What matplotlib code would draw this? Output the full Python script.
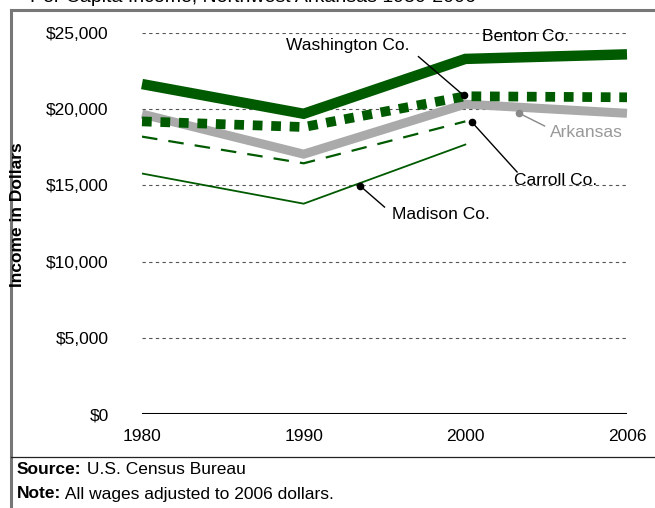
import matplotlib.pyplot as plt
from matplotlib.lines import Line2D

plt.rcParams['font.family'] = ['Liberation Sans', 'DejaVu Sans']

years = ["1980", "1990", "2000", "2006"]
benton = [21650, 19700, 23300, 23600]
washington = [19200, 18830, 20850, 20780]
arkansas = [19680, 17050, 20330, 19730]
carroll = [18200, 16450, 19200]
madison = [15780, 13800, 17680]
y_ticks = [0, 5000, 10000, 15000, 20000, 25000]
y_labels = ["$0", "$5,000", "$10,000", "$15,000", "$20,000", "$25,000"]

green = "#005a00"
grey = "#aaaaaa"
FS = 12.5

fig = plt.figure(figsize=(6.55, 5.08), dpi=100)
ax = fig.add_axes([142 / 655, 94 / 508, 485 / 655, 381 / 508])

x = list(range(len(years)))

for t in y_ticks[1:]:
    ax.axhline(t, color="#555555", lw=0.8, ls=(0, (3, 3)), zorder=1)
ax.axhline(0, color="black", lw=2.2, zorder=2)

ax.plot(x, arkansas, color=grey, lw=6.5, solid_capstyle="butt",
        solid_joinstyle="miter", zorder=3, clip_on=False)
ax.plot(x, washington, color=green, lw=7, ls=(0, (1.0, 0.9)),
        dash_capstyle="butt", zorder=4, clip_on=False)
ax.plot(x, benton, color=green, lw=7.5, solid_capstyle="butt",
        solid_joinstyle="miter", zorder=5, clip_on=False)
ax.plot(x[:3], carroll, color=green, lw=1.6, ls=(0, (7, 5)), zorder=4)
ax.plot(x[:3], madison, color=green, lw=1.3, zorder=4)

ax.set_xlim(0, 3)
ax.set_ylim(0, 25000)
ax.set_yticks(y_ticks)
ax.set_yticklabels(y_labels)
ax.set_xticks(x)
ax.set_xticklabels(years)
ax.tick_params(length=0, labelsize=FS)
ax.tick_params(axis="y", pad=24)
ax.tick_params(axis="x", pad=11)
for s in ax.spines.values():
    s.set_visible(False)
ax.set_facecolor("none")


def callout(text, label_xy, start, dot, color="black", text_color="black"):
    ax.text(label_xy[0], label_xy[1], text, fontsize=FS, color=text_color,
            ha="center", va="center", zorder=8)
    ax.plot([start[0], dot[0]], [start[1], dot[1]], color=color, lw=1, zorder=6)
    ax.plot(dot[0], dot[1], "o", color=color, ms=4.5, zorder=7)


ax.text(2.37, 24740, "Benton Co.", fontsize=FS, ha="center", va="center")
callout("Washington Co.", (1.27, 24210), (1.71, 23450), (1.99, 20900))
callout("Arkansas", (2.75, 18440), (2.49, 18900), (2.33, 19750),
        color="#888888", text_color="#999999")
callout("Carroll Co.", (2.56, 15350), (2.32, 15880), (2.04, 19160))
callout("Madison Co.", (1.85, 13060), (1.50, 13580), (1.35, 14960))

fig.text(18 / 655, 1 - 215 / 508, "Income in Dollars", fontsize=FS,
         fontweight="bold", rotation=90, ha="center", va="center")

# title, cut off at the top edge as in the original
fig.text(30 / 655, 1 - 1.5 / 508, "Per Capita Income, Northwest Arkansas 1980-2006",
         fontsize=14, va="baseline", ha="left")

# frame and footer separator
fig.add_artist(Line2D([11 / 655, 11 / 655], [0, 1 - 10 / 508], color="#777777", lw=2.2))
fig.add_artist(Line2D([11 / 655, 1], [1 - 10 / 508, 1 - 10 / 508], color="#777777", lw=2.2))
fig.add_artist(Line2D([11 / 655, 1], [1 - 457 / 508, 1 - 457 / 508], color="#222222", lw=0.9))

renderer = fig.canvas.get_renderer()
for row_y, head, body in [(470, "Source:", " U.S. Census Bureau"),
                          (494, "Note:", " All wages adjusted to 2006 dollars.")]:
    t = fig.text(17 / 655, 1 - row_y / 508, head, fontsize=FS, fontweight="bold", va="center")
    bb = t.get_window_extent(renderer)
    fig.text(bb.x1 / 655, 1 - row_y / 508, body, fontsize=FS, va="center")

fig.savefig("out.png", dpi=100)
